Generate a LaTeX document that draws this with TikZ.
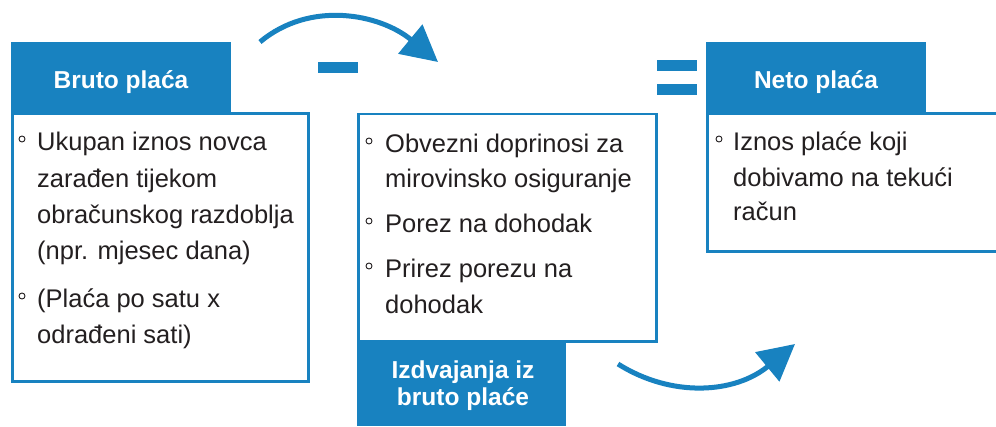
\documentclass[tikz,border=0pt]{standalone}
\usepackage{fontspec}
\setmainfont{Liberation Sans}
\usetikzlibrary{arrows.meta}
\definecolor{brand}{RGB}{24,130,192}
\definecolor{ink}{RGB}{35,31,32}
\tikzset{
  hdr/.style={fill=brand, draw=none},
  framebox/.style={draw=brand, line width=2.6pt, fill=white},
  hdrtext/.style={text=white, font=\bfseries\fontsize{24.5}{27}\selectfont, inner sep=0pt, anchor=base},
  itemline/.style={text=ink, font=\fontsize{25.5}{36}\selectfont, inner sep=0pt, anchor=base west},
  bul/.style={circle, draw=ink, line width=0.9pt, minimum size=6pt, inner sep=0pt},
  flow/.style={draw=brand, line width=5pt, -{Triangle[width=37pt,length=36pt]}},
  opbar/.style={fill=brand, draw=none}
}
\begin{document}
\begin{tikzpicture}[x=1pt,y=-1pt]
\clip (0,0) rectangle (996,426);
\fill[white] (0,0) rectangle (996,426);

% left
\draw[framebox] (12.3,113.3) rectangle (308.7,381.2);
\fill[hdr] (11,42) rectangle (231,112);
\node[hdrtext] (brutoh) at (121,88) {Bruto plaća};
\node[bul] (lb1) at (22,139) {};
\node[itemline] (l1) at (37,150) {Ukupan iznos novca};
\node[itemline] (l2) at (37,187) {zarađen tijekom};
\node[itemline] (l3) at (37,223) {obračunskog razdoblja};
\node[itemline] (l4) at (37,259) {(npr. mjesec dana)};
\node[bul] (lb2) at (22,296) {};
\node[itemline] (l5) at (37,307) {(Plaća po satu x};
\node[itemline] (l6) at (37,343) {odrađeni sati)};

% minus
\fill[opbar] (318,62) rectangle (358,73);

% middle
\draw[framebox] (358.3,114) rectangle (656.7,341.2);
\fill[hdr] (357,343) rectangle (566,426);
\node[hdrtext] (izdv1) at (463,378) {Izdvajanja iz};
\node[hdrtext] (izdv2) at (463,405) {bruto plaće};
\node[bul] (mb1) at (369,141) {};
\node[itemline] (m1) at (385,152) {Obvezni doprinosi za};
\node[itemline] (m2) at (385,187) {mirovinsko osiguranje};
\node[bul] (mb2) at (369,221) {};
\node[itemline] (m3) at (385,232) {Porez na dohodak};
\node[bul] (mb3) at (369,266) {};
\node[itemline] (m4) at (385,277) {Prirez porezu na};
\node[itemline] (m5) at (385,313) {dohodak};

% equals
\fill[opbar] (657,60) rectangle (697,71);
\fill[opbar] (657,84) rectangle (697,95);

% right
\draw[framebox] (707.3,113.3) rectangle (1010,251.7);
\fill[hdr] (706,42) rectangle (926,112);
\node[hdrtext] (netoh) at (816,88) {Neto plaća};
\node[bul] (rb1) at (719,139) {};
\node[itemline] (r1) at (733,150) {Iznos plaće koji};
\node[itemline] (r2) at (733,186) {dobivamo na tekući};
\node[itemline] (r3) at (733,220) {račun};

% arrows
\coordinate (a1s) at (260,42);
\coordinate (a1e) at (438,62);
\draw[flow] (a1s) .. controls (310,0) and (380,14) .. (a1e);
\coordinate (a2s) at (618,364);
\coordinate (a2e) at (795,344);
\draw[flow] (a2s) .. controls (672,398) and (735,393.5) .. (a2e);
\end{tikzpicture}
\end{document}
